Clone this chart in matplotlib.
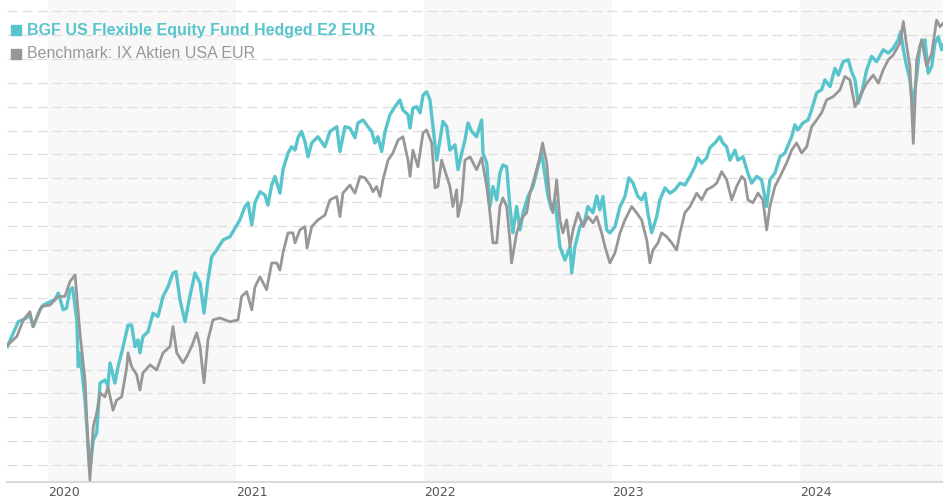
import matplotlib.pyplot as plt
from matplotlib.lines import Line2D

plt.rcParams['lines.scale_dashes'] = False

# decimal years / index values (start ~100)
fund_t = [
    2019.784, 2019.807, 2019.842, 2019.878, 2019.904, 2019.922, 2019.957, 2019.975, 2020.011, 2020.037,
    2020.055, 2020.081, 2020.099, 2020.117, 2020.131, 2020.153, 2020.161, 2020.170, 2020.197, 2020.223,
    2020.241, 2020.259, 2020.277, 2020.303, 2020.319, 2020.330, 2020.356, 2020.372, 2020.399, 2020.426,
    2020.445, 2020.463, 2020.479, 2020.489, 2020.505, 2020.532, 2020.559, 2020.585, 2020.612, 2020.638,
    2020.665, 2020.681, 2020.702, 2020.729, 2020.755, 2020.782, 2020.809, 2020.830, 2020.851, 2020.871,
    2020.897, 2020.931, 2020.968, 2020.995, 2021.021, 2021.048, 2021.064, 2021.084, 2021.101, 2021.128,
    2021.154, 2021.170, 2021.190, 2021.207, 2021.234, 2021.250, 2021.277, 2021.296, 2021.314, 2021.330,
    2021.349, 2021.367, 2021.383, 2021.403, 2021.436, 2021.473, 2021.500, 2021.536, 2021.553, 2021.580,
    2021.606, 2021.633, 2021.649, 2021.676, 2021.702, 2021.722, 2021.739, 2021.755, 2021.775, 2021.793,
    2021.819, 2021.846, 2021.872, 2021.888, 2021.915, 2021.926, 2021.941, 2021.961, 2021.979, 2021.995,
    2022.014, 2022.032, 2022.048, 2022.068, 2022.085, 2022.101, 2022.121, 2022.138, 2022.165, 2022.181,
    2022.201, 2022.218, 2022.234, 2022.254, 2022.280, 2022.307, 2022.314, 2022.334, 2022.351, 2022.367,
    2022.387, 2022.404, 2022.420, 2022.440, 2022.457, 2022.473, 2022.493, 2022.511, 2022.527, 2022.553,
    2022.580, 2022.606, 2022.626, 2022.644, 2022.660, 2022.679, 2022.697, 2022.723, 2022.750, 2022.777,
    2022.786, 2022.803, 2022.830, 2022.856, 2022.872, 2022.899, 2022.919, 2022.936, 2022.952, 2022.972,
    2022.989, 2023.016, 2023.043, 2023.069, 2023.090, 2023.112, 2023.138, 2023.158, 2023.176, 2023.191,
    2023.211, 2023.238, 2023.255, 2023.282, 2023.309, 2023.335, 2023.362, 2023.388, 2023.415, 2023.441,
    2023.457, 2023.477, 2023.504, 2023.521, 2023.548, 2023.574, 2023.590, 2023.610, 2023.628, 2023.654,
    2023.670, 2023.697, 2023.723, 2023.743, 2023.770, 2023.796, 2023.823, 2023.840, 2023.867, 2023.894,
    2023.920, 2023.956, 2023.973, 2023.989, 2024.016, 2024.043, 2024.062, 2024.089, 2024.115, 2024.133,
    2024.160, 2024.186, 2024.204, 2024.230, 2024.257, 2024.275, 2024.293, 2024.310, 2024.328, 2024.355,
    2024.381, 2024.408, 2024.443, 2024.470, 2024.496, 2024.523, 2024.536, 2024.550, 2024.568, 2024.585,
    2024.600, 2024.621, 2024.638, 2024.665, 2024.682, 2024.701, 2024.718, 2024.736, 2024.754, 2024.761,
]
fund_v = [
    99.8, 101.9, 105.0, 105.6, 106.4, 104.0, 107.5, 108.5, 109.2, 109.6,
    111.0, 107.5, 107.9, 111.7, 112.1, 105.4, 95.6, 98.5, 88.6, 74.0,
    80.3, 81.7, 92.2, 92.8, 91.6, 96.4, 92.2, 95.5, 99.7, 104.3,
    104.3, 99.8, 101.2, 98.5, 101.9, 102.9, 106.8, 106.1, 110.3, 112.3,
    115.2, 115.5, 109.6, 105.0, 110.3, 115.2, 113.1, 106.8, 113.7, 118.6,
    120.0, 122.1, 122.8, 124.6, 126.3, 129.1, 129.9, 125.3, 129.9, 132.2,
    131.5, 129.4, 133.6, 135.4, 131.9, 136.8, 140.3, 141.6, 140.9, 143.5,
    144.8, 142.7, 139.5, 142.4, 143.7, 141.6, 144.8, 145.8, 140.6, 145.8,
    145.5, 143.5, 146.6, 147.2, 145.8, 144.8, 142.4, 143.7, 140.6, 144.8,
    148.3, 150.0, 151.4, 149.3, 148.3, 145.5, 149.7, 150.0, 148.7, 152.4,
    153.1, 151.4, 145.8, 138.8, 143.0, 146.9, 145.8, 140.9, 142.0, 136.8,
    140.3, 143.0, 146.6, 144.8, 143.7, 147.2, 140.3, 138.2, 129.1, 133.3,
    130.5, 136.1, 137.8, 137.4, 129.1, 123.6, 129.1, 124.2, 127.8, 131.2,
    133.3, 137.4, 140.3, 135.4, 131.2, 128.4, 130.5, 120.7, 117.9, 120.7,
    115.2, 120.7, 124.9, 126.3, 129.1, 127.8, 131.3, 128.4, 131.2, 124.2,
    123.6, 124.9, 129.1, 131.2, 135.1, 134.0, 131.2, 130.5, 131.9, 127.8,
    123.6, 127.0, 130.5, 133.0, 131.9, 132.6, 134.0, 133.6, 135.4, 137.4,
    139.3, 138.2, 139.3, 141.4, 142.4, 143.7, 142.4, 141.6, 138.8, 140.9,
    138.8, 139.5, 136.1, 134.0, 135.4, 134.7, 129.1, 134.7, 136.1, 139.5,
    140.3, 143.7, 146.2, 145.1, 146.6, 147.2, 149.3, 152.9, 153.5, 155.6,
    154.2, 158.0, 156.6, 159.4, 159.8, 157.3, 155.6, 150.7, 152.8, 157.7,
    160.5, 159.4, 161.9, 161.2, 162.2, 164.0, 165.7, 161.9, 158.4, 155.6,
    150.0, 156.3, 162.6, 164.0, 157.0, 158.4, 163.3, 164.6, 161.9, 162.9,
]
bench_t = [
    2019.784, 2019.834, 2019.869, 2019.904, 2019.920, 2019.966, 2020.011, 2020.053, 2020.090, 2020.117,
    2020.144, 2020.170, 2020.197, 2020.214, 2020.223, 2020.241, 2020.259, 2020.277, 2020.303, 2020.319,
    2020.346, 2020.365, 2020.392, 2020.419, 2020.426, 2020.445, 2020.472, 2020.489, 2020.505, 2020.543,
    2020.578, 2020.612, 2020.649, 2020.665, 2020.685, 2020.718, 2020.738, 2020.764, 2020.791, 2020.809,
    2020.830, 2020.851, 2020.878, 2020.915, 2020.968, 2021.011, 2021.030, 2021.057, 2021.084, 2021.101,
    2021.128, 2021.163, 2021.190, 2021.217, 2021.234, 2021.250, 2021.277, 2021.303, 2021.314, 2021.340,
    2021.367, 2021.378, 2021.403, 2021.436, 2021.473, 2021.500, 2021.536, 2021.553, 2021.569, 2021.606,
    2021.633, 2021.660, 2021.686, 2021.713, 2021.729, 2021.748, 2021.766, 2021.782, 2021.809, 2021.835,
    2021.862, 2021.888, 2021.915, 2021.926, 2021.941, 2021.968, 2021.995, 2022.014, 2022.041, 2022.059,
    2022.074, 2022.094, 2022.121, 2022.138, 2022.154, 2022.174, 2022.181, 2022.201, 2022.218, 2022.245,
    2022.280, 2022.307, 2022.334, 2022.351, 2022.367, 2022.387, 2022.404, 2022.420, 2022.440, 2022.457,
    2022.466, 2022.493, 2022.511, 2022.527, 2022.546, 2022.564, 2022.590, 2022.617, 2022.631, 2022.653,
    2022.670, 2022.686, 2022.706, 2022.723, 2022.739, 2022.759, 2022.777, 2022.793, 2022.819, 2022.846,
    2022.872, 2022.899, 2022.919, 2022.945, 2022.963, 2022.989, 2023.016, 2023.043, 2023.069, 2023.105,
    2023.131, 2023.158, 2023.185, 2023.202, 2023.218, 2023.245, 2023.264, 2023.291, 2023.318, 2023.344,
    2023.362, 2023.388, 2023.415, 2023.451, 2023.477, 2023.504, 2023.537, 2023.557, 2023.584, 2023.610,
    2023.637, 2023.663, 2023.690, 2023.707, 2023.723, 2023.750, 2023.777, 2023.803, 2023.823, 2023.840,
    2023.867, 2023.903, 2023.929, 2023.956, 2023.982, 2024.009, 2024.036, 2024.062, 2024.089, 2024.115,
    2024.142, 2024.177, 2024.213, 2024.239, 2024.266, 2024.293, 2024.319, 2024.355, 2024.390, 2024.417,
    2024.443, 2024.470, 2024.496, 2024.532, 2024.550, 2024.568, 2024.585, 2024.603, 2024.621, 2024.647,
    2024.674, 2024.701, 2024.727, 2024.745, 2024.761,
]
bench_v = [
    100.1, 101.9, 105.4, 107.1, 104.0, 108.2, 108.5, 110.3, 110.3, 113.4,
    114.8, 102.7, 92.8, 77.6, 71.9, 83.1, 85.9, 90.1, 89.3, 91.4,
    86.5, 88.6, 89.3, 95.5, 98.5, 95.6, 93.9, 90.7, 94.3, 96.0,
    94.9, 98.5, 99.8, 104.0, 98.5, 96.4, 97.7, 99.8, 102.7, 99.8,
    92.2, 101.2, 105.4, 105.8, 105.0, 105.4, 110.3, 111.3, 107.5, 112.3,
    114.4, 111.7, 117.3, 117.3, 115.8, 119.4, 123.6, 123.6, 121.5, 124.2,
    124.9, 120.4, 124.9, 126.3, 127.3, 130.5, 131.2, 127.0, 131.9, 133.6,
    131.9, 135.4, 135.1, 133.6, 132.2, 133.3, 131.2, 134.7, 138.8, 140.3,
    143.0, 143.7, 138.8, 135.4, 140.9, 137.4, 144.5, 145.1, 142.4, 133.0,
    133.3, 138.8, 135.4, 133.3, 129.1, 132.6, 127.0, 130.5, 138.8, 139.5,
    136.8, 139.3, 133.3, 127.8, 121.5, 121.5, 129.1, 130.9, 129.1, 122.1,
    117.3, 123.6, 125.7, 127.0, 127.8, 131.9, 135.4, 139.5, 142.4, 138.2,
    130.5, 127.8, 134.7, 126.3, 123.6, 126.3, 120.7, 124.2, 127.8, 124.9,
    127.0, 125.7, 127.0, 123.6, 120.7, 117.3, 119.4, 123.6, 126.3, 129.1,
    127.8, 126.3, 122.1, 117.3, 120.0, 121.5, 123.6, 122.8, 121.5, 120.0,
    123.6, 127.8, 129.1, 131.9, 130.5, 132.6, 133.3, 134.0, 136.4, 134.7,
    130.5, 133.3, 135.4, 134.7, 130.5, 129.9, 131.9, 130.5, 124.2, 129.1,
    133.3, 136.1, 138.2, 140.9, 142.4, 140.3, 141.6, 145.8, 147.2, 148.7,
    151.4, 152.1, 153.5, 156.3, 155.6, 150.0, 152.1, 154.9, 156.6, 154.9,
    157.7, 159.8, 160.8, 163.3, 167.8, 162.6, 158.4, 142.3, 159.8, 164.0,
    158.4, 161.2, 168.1, 166.7, 167.4,
]
years = [2020, 2021, 2022, 2023, 2024]
shaded_years = [2020, 2022, 2024]
fund_name = "BGF US Flexible Equity Fund Hedged E2 EUR"
bench_name = "Benchmark: IX Aktien USA EUR"

teal = "#58c4cc"
grey = "#979797"

fig = plt.figure(figsize=(9.43, 5), dpi=100)
ax = fig.add_axes([7 / 943, 1 - 481.7 / 500, 936 / 943, 481.7 / 500])

for y in shaded_years:
    ax.axvspan(y, y + 1, color="#f8f8f8", lw=0, zorder=0)

ax.plot(fund_t, fund_v, color=teal, lw=2.4, zorder=3, solid_joinstyle="round")
ax.plot(bench_t, bench_v, color=grey, lw=2.0, zorder=4, solid_joinstyle="round")

ax.set_xlim(2019.782, 2024.761)
ax.set_ylim(71.55, 172.3)

ax.set_yticks(range(75, 171, 5))
ax.set_yticklabels([])
ax.yaxis.grid(True, color="#dedede", lw=0.9, linestyle=(0, (7.2, 3.6)))
ax.set_axisbelow(True)

ax.set_xticks(years)
ax.set_xticklabels([str(y) for y in years], ha="left", color="#555555",
                   fontsize=9, family="DejaVu Sans")
ax.tick_params(axis="both", length=0)
ax.tick_params(axis="x", pad=3)

for s in ["left", "right", "top"]:
    ax.spines[s].set_visible(False)
ax.spines["bottom"].set_color("#dadada")
ax.spines["bottom"].set_linewidth(1.5)
ax.set_facecolor("none")

# legend at the top left
fig.add_artist(Line2D([16.3 / 943], [1 - 30 / 500], marker="s", ms=7, color=teal,
                      transform=fig.transFigure))
fig.add_artist(Line2D([16.3 / 943], [1 - 53.5 / 500], marker="s", ms=7, color=grey,
                      transform=fig.transFigure))
fig.text(27 / 943, 1 - 35 / 500, fund_name, color=teal, fontsize=11.5, fontweight="bold",
         family="Liberation Sans", va="baseline")
fig.text(27 / 943, 1 - 58.3 / 500, bench_name, color="#999999", fontsize=11.5,
         family="Liberation Sans", va="baseline")

plt.savefig("out.png", dpi=100)
